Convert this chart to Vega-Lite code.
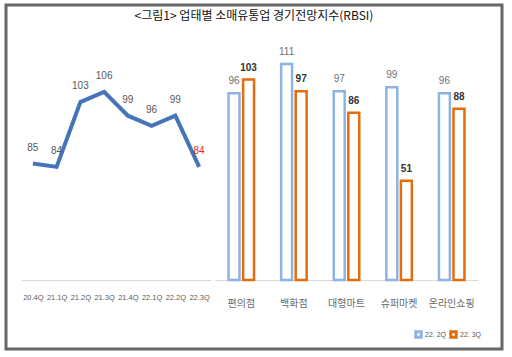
{
  "$schema": "https://vega.github.io/schema/vega-lite/v6.json",
  "autosize": {"type": "fit", "contains": "padding"},
  "width": 512,
  "height": 357,
  "padding": {"left": 6, "top": 5, "right": 10, "bottom": 8},
  "background": "white",
  "title": {"text": "<그림1> 업태별 소매유통업 경기전망지수(RBSI)", "font": "Noto Sans CJK KR", "fontSize": 12, "fontWeight": "normal", "color": "#111111", "offset": -18, "frame": "group", "anchor": "middle"},
  "config": {"view": {"stroke": "#666666", "strokeWidth": 3}, "font": "Noto Sans CJK KR"},
  "datasets": {
    "trend": [
      {"period": "20.4Q", "value": 85},
      {"period": "21.1Q", "value": 84},
      {"period": "21.2Q", "value": 103},
      {"period": "21.3Q", "value": 106},
      {"period": "21.4Q", "value": 99},
      {"period": "22.1Q", "value": 96},
      {"period": "22.2Q", "value": 99},
      {"period": "22.3Q", "value": 84}
    ],
    "sector": [
      {"category": "편의점", "series": "22. 2Q", "value": 96},
      {"category": "편의점", "series": "22. 3Q", "value": 103},
      {"category": "백화점", "series": "22. 2Q", "value": 111},
      {"category": "백화점", "series": "22. 3Q", "value": 97},
      {"category": "대형마트", "series": "22. 2Q", "value": 97},
      {"category": "대형마트", "series": "22. 3Q", "value": 86},
      {"category": "슈퍼마켓", "series": "22. 2Q", "value": 99},
      {"category": "슈퍼마켓", "series": "22. 3Q", "value": 51},
      {"category": "온라인쇼핑", "series": "22. 2Q", "value": 96},
      {"category": "온라인쇼핑", "series": "22. 3Q", "value": 88}
    ]
  },
  "layer": [
    {
      "data": {"name": "trend"},
      "encoding": {
        "x": {"field": "period", "type": "ordinal", "sort": null,
              "scale": {"type": "point", "range": [15, 205], "padding": 0.5},
              "axis": {"orient": "bottom", "offset": -69, "title": null, "ticks": false, "grid": false, "domainColor": "#D9D9D9", "labelFontSize": 7.5, "labelColor": "#595959", "labelPadding": 13, "labelAngle": 0, "labelFont": "Liberation Sans"}},
        "y": {"field": "value", "type": "quantitative", "scale": {"domain": [50, 120], "range": [278, 39], "nice": false, "zero": false}, "axis": null}
      },
      "layer": [
        {"mark": {"type": "line", "color": "#4674B8", "strokeWidth": 4}},
        {"mark": {"type": "text", "dy": -16, "fontSize": 10, "font": "Liberation Sans"},
         "encoding": {"text": {"field": "value", "type": "quantitative"},
                      "color": {"condition": {"test": "datum.period === '22.3Q'", "value": "#E02B2B"}, "value": "#595959"}}}
      ]
    },
    {
      "data": {"name": "sector"},
      "encoding": {
        "x": {"field": "category", "type": "nominal", "sort": null,
              "scale": {"range": [209, 472], "paddingInner": 0.46, "paddingOuter": 0.23},
              "axis": {"orient": "bottom", "offset": -69, "title": null, "ticks": false, "grid": false, "domainColor": "#D9D9D9", "labelFontSize": 10, "labelColor": "#6A6A6A", "labelPadding": 18, "labelAngle": 0}},
        "xOffset": {"field": "series", "type": "nominal", "sort": null, "scale": {"paddingInner": 0.25, "paddingOuter": 0.1}},
        "y": {"field": "value", "type": "quantitative", "scale": {"domain": [0, 120], "range": [275, 41.5], "nice": false}, "axis": null}
      },
      "layer": [
        {"mark": {"type": "bar", "fill": "white", "strokeWidth": 2.5},
         "encoding": {"stroke": {"field": "series", "type": "nominal",
                                 "scale": {"domain": ["22. 2Q", "22. 3Q"], "range": ["#8DB3E2", "#E46C0A"]},
                                 "legend": {"orient": "none", "legendX": 408, "legendY": 325, "direction": "horizontal", "title": null, "symbolType": "square", "symbolSize": 30, "symbolStrokeWidth": 3, "labelFontSize": 7, "labelColor": "#595959", "columnPadding": -3, "gridAlign": "none", "labelOffset": 2, "labelFont": "Liberation Sans", "padding": 0}}}},
        {"transform": [{"filter": "datum.series === '22. 2Q'"}],
         "mark": {"type": "text", "dy": -12, "fontSize": 10, "color": "#707070", "font": "Liberation Sans"},
         "encoding": {"text": {"field": "value", "type": "quantitative"}}},
        {"transform": [{"filter": "datum.series === '22. 3Q'"}],
         "mark": {"type": "text", "dy": -12, "fontSize": 10, "fontWeight": "bold", "color": "#333333", "font": "Liberation Sans"},
         "encoding": {"text": {"field": "value", "type": "quantitative"}}}
      ]
    }
  ],
  "resolve": {"scale": {"x": "independent", "y": "independent"}, "axis": {"x": "independent", "y": "independent"}}
}
